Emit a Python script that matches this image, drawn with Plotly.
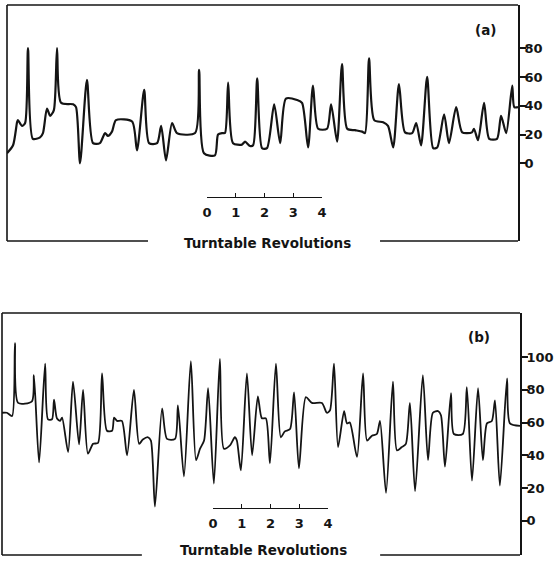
import plotly.graph_objects as go

# trace (a): position in turntable revolutions, reading on the right-hand scale
a_rev = [0, 0.21, 0.35, 0.38, 0.52, 0.63, 0.73, 0.90, 1.15, 1.25, 1.39, 1.50, 1.63, 1.74, 1.88,
         2.30, 2.40, 2.54, 2.78, 2.99, 3.23, 3.41, 3.51, 3.65, 3.79, 4.35, 4.52, 4.77, 4.94, 5.22,
         5.36, 5.53, 5.74, 5.91, 6.54, 6.68, 6.85, 7.23, 7.34, 7.48, 7.58, 7.69, 7.86, 8.17, 8.28,
         8.45, 8.56, 8.70, 8.87, 9.04, 9.29, 9.50, 9.70, 10.09, 10.26, 10.47, 10.64, 10.82, 11.13,
         11.27, 11.48, 11.65, 11.83, 12.10, 12.35, 12.45, 12.59, 12.77, 13.08, 13.25, 13.43, 13.63,
         13.84, 14.09, 14.23, 14.40, 14.61, 14.82, 14.96, 15.20, 15.37, 15.62, 15.83, 16.17, 16.24,
         16.38, 16.59, 16.77, 17.04, 17.18, 17.36, 17.57, 17.64, 17.77]
a_val = [7, 12.5, 28.5, 30, 26, 28, 80, 17, 18, 21, 38, 33, 37, 80, 42,
         41, 39, 0, 58, 14, 14, 21, 19, 22, 30, 29, 9, 51, 14, 14,
         26, 2, 28, 21, 21, 65, 7, 5.5, 20, 21, 21, 56, 14, 13, 15,
         12, 12.5, 59, 10.5, 10.5, 41, 14, 45, 44, 42, 11, 54, 24, 24,
         41, 15, 69, 24, 23, 22, 21, 73, 30, 28.5, 26, 11, 55,
         21.5, 21, 28, 12.5, 60, 10.5, 11, 34, 14, 39, 21.5, 21.5, 24,
         16, 42, 17, 17, 33, 21, 54, 39, 39]

# trace (b)
b_rev = [0, 0.17, 0.35, 0.45, 0.56, 1.04, 1.11, 1.29, 1.50, 1.60, 1.74, 1.81, 1.91, 2.02, 2.09,
         2.30, 2.47, 2.68, 2.82, 2.99, 3.17, 3.34, 3.48, 3.65, 3.83, 3.90, 4.00, 4.17, 4.35, 4.59,
         4.77, 4.90, 5.08, 5.18, 5.32, 5.57, 5.74, 6.02, 6.12, 6.33, 6.57, 6.75, 6.89, 7.03, 7.17,
         7.37, 7.58, 7.72, 7.93, 8.10, 8.17, 8.31, 8.52, 8.70, 8.90, 9.04, 9.18, 9.32, 9.53, 9.70,
         9.84, 10.02, 10.16, 10.33, 10.57, 10.78, 11.13, 11.30, 11.41, 11.55, 11.69, 11.90, 12.00,
         12.10, 12.35, 12.56, 12.70, 12.87, 13.04, 13.15, 13.36, 13.60, 13.74, 13.91, 14.05, 14.19,
         14.37, 14.64, 14.82, 14.99, 15.17, 15.27, 15.41, 15.62, 15.72, 16.03, 16.17, 16.35, 16.56,
         16.73, 16.87, 17.04, 17.15, 17.32, 17.57, 17.67, 18.02]
b_val = [66, 66, 64, 108.6, 72, 73, 89, 35.6, 96, 62, 62, 74, 62.6, 61, 63,
         42, 85, 46.6, 80, 41, 47, 47.5, 90, 55, 55, 63, 61, 61, 40, 80,
         47, 49.6, 51, 49, 8.6, 68.7, 50, 50, 70.5, 27, 97.5, 37, 44, 49, 81,
         22.7, 99, 44, 46, 51, 49, 30.7, 90, 40, 76, 62.6, 62.6, 35, 96, 51,
         54.6, 56, 78.5, 32, 75.5, 72, 72, 66, 67.5, 96, 45, 67, 59.5,
         60, 39, 90, 49, 52, 53, 61, 17, 85, 43, 45, 47, 72,
         18, 89, 37, 66, 67, 64.5, 33, 78, 53, 53, 81.6, 24.5, 81,
         37, 59.5, 61, 73.6, 21.5, 87, 59.5, 58]

a_ticks = [0, 20, 40, 60, 80]
b_ticks = [0, 20, 40, 60, 80, 100]
rev_ticks = [0, 1, 2, 3, 4]
x_title = "Turntable Revolutions"

W, H = 554, 565
ink = "#141414"
font = dict(family="DejaVu Sans", size=13.5, color=ink, weight="bold")
tick_font = dict(family="DejaVu Sans", size=13, color=ink, weight="bold")

def px(x):
    return x / W

def py(y):
    return 1 - y / H

fig = go.Figure()
fig.add_trace(go.Scatter(x=a_rev, y=a_val, mode="lines", xaxis="x", yaxis="y",
                         line=dict(color=ink, width=2.2, shape="spline", smoothing=0.7),
                         hoverinfo="skip", showlegend=False))
fig.add_trace(go.Scatter(x=b_rev, y=b_val, mode="lines", xaxis="x2", yaxis="y2",
                         line=dict(color=ink, width=1.8, shape="spline", smoothing=0.7),
                         hoverinfo="skip", showlegend=False))
# empty holders so the two scale-bar axes get drawn
fig.add_trace(go.Scatter(x=rev_ticks, y=[None] * 5, xaxis="x3", yaxis="y",
                         hoverinfo="skip", showlegend=False))
fig.add_trace(go.Scatter(x=rev_ticks, y=[None] * 5, xaxis="x4", yaxis="y2",
                         hoverinfo="skip", showlegend=False))

yax = dict(side="right", ticks="outside", ticklen=6, tickwidth=1.5, tickcolor=ink,
           showline=True, linewidth=1.6, linecolor=ink, showgrid=False, zeroline=False,
           tickfont=tick_font, ticklabelstandoff=-4, automargin=False)
scale = dict(anchor="free", range=[0, 4], tickvals=rev_ticks, ticks="inside", ticklen=4,
             tickwidth=1.3, tickcolor=ink, showline=True, linewidth=1.4, linecolor=ink,
             showgrid=False, zeroline=False, tickfont=tick_font, ticklabelstandoff=3,
             automargin=False, fixedrange=True)

fig.update_layout(
    width=W, height=H, template="none",
    margin=dict(l=0, r=0, t=0, b=0),
    paper_bgcolor="white", plot_bgcolor="rgba(0,0,0,0)",
    showlegend=False,
    xaxis=dict(domain=[px(7), px(518)], range=[0, 17.77], visible=False, anchor="y"),
    yaxis=dict(domain=[py(241), py(5)], range=[-54, 110], tickvals=a_ticks, anchor="x", **yax),
    xaxis2=dict(domain=[px(2), px(520)], range=[0, 18.02], visible=False, anchor="y2"),
    yaxis2=dict(domain=[py(555), py(313)], range=[-21, 127], tickvals=b_ticks, anchor="x2", **yax),
    xaxis3=dict(domain=[px(207), px(322)], position=py(197), **scale),
    xaxis4=dict(domain=[px(213), px(328)], position=py(508), **scale),
)

shapes = []
for xr, yr, gap in [("x domain", "y domain", (0.276, 0.73)), ("x2 domain", "y2 domain", (0.27, 0.73))]:
    edge = dict(type="line", xref=xr, yref=yr, line=dict(color=ink, width=1.6))
    shapes.append(dict(edge, x0=0, x1=0, y0=0, y1=1))
    shapes.append(dict(edge, x0=0, x1=1, y0=1, y1=1))
    shapes.append(dict(edge, x0=0, x1=gap[0], y0=0, y1=0))
    shapes.append(dict(edge, x0=gap[1], x1=1, y0=0, y1=0))
fig.update_layout(shapes=shapes)

labels = [("(a)", 485, 30), ("(b)", 479, 337), (x_title, 267, 243), (x_title, 263, 550)]
for text, lx, ly in labels:
    fig.add_annotation(text=text, x=px(lx), y=py(ly), xref="paper", yref="paper",
                       xanchor="center", yanchor="middle", showarrow=False, font=font)

# page body has a default margin; drop it so the figure sits at the window corner
fig.write_html("out.html", config={"displayModeBar": False},
               post_script="document.body.style.margin='0px';")
